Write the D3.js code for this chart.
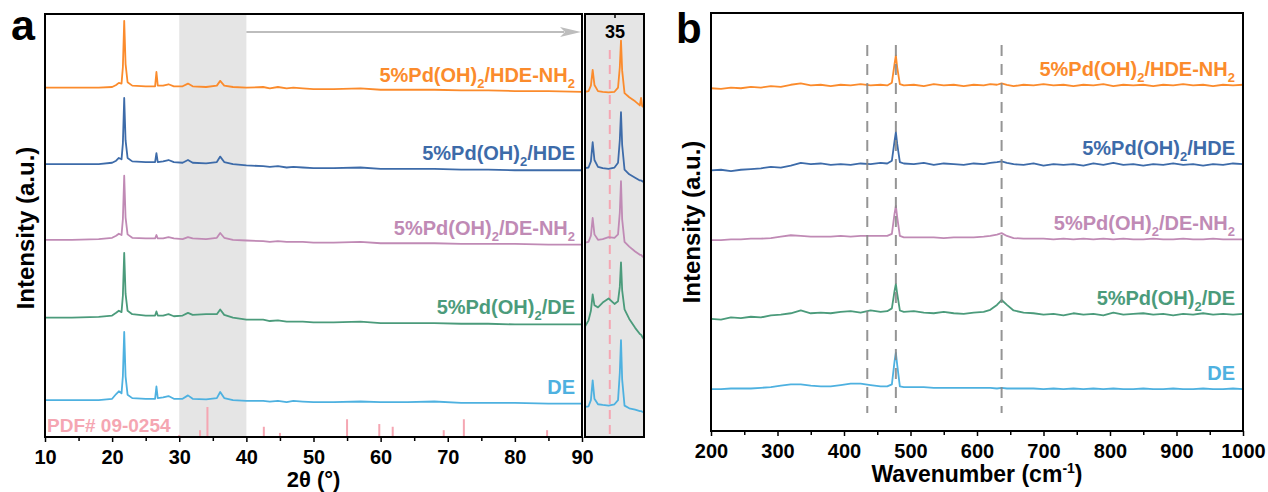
<!DOCTYPE html>
<html>
<meta charset="utf-8">
<head>
    <title>XRD and Raman</title>
    <script src="https://cdn.jsdelivr.net/npm/d3@7"></script>
    <style>
        body { margin: 0; background: #fff; }
        svg text { font-family: "Liberation Sans", Arial, sans-serif; font-weight: bold; }
    </style>
</head>
<body>
    <div id="chart"></div>
<script>
    // ---- data (bottom trace first) ----
    var sampleNames = [
        ["DE"],
        ["5%Pd(OH)", "2", "/DE"],
        ["5%Pd(OH)", "2", "/DE-NH", "2"],
        ["5%Pd(OH)", "2", "/HDE"],
        ["5%Pd(OH)", "2", "/HDE-NH", "2"]
    ];
    var sampleColors = ["#4eb1e0", "#4b9b7b", "#c08ab5", "#3d6ba9", "#fb8b2c"];

    // XRD, 2theta in degrees, intensity in a.u. (main peak ~100)
    var xrdTheta = [10, 14, 18, 20, 20.6, 21.0, 21.4, 21.6, 21.8, 22.0, 22.3, 23, 25, 26.4, 26.6, 26.8, 27.6, 28.4, 29.2, 30.5, 31.3, 32, 34, 35.6, 36.1, 36.7, 38, 40, 42.5, 43.5, 44.7, 46, 47, 48.4, 50, 53, 57, 60, 64, 68, 72, 76, 80, 85, 90];
    var xrdDE = [0, 0, 0, 2, 9, 13, 10, 35, 100, 35, 8, 3, 2, 2, 20, 3, 4, 6, 2, 2, 7, 2, 1, 3, 12, 3, 0, -1, -1, -2, -1, -3, -1, -2, -3, -3, -2, -3, -3, -2, -4, -4, -4, -5, -5];
    var xrdPdDE = [0, 0, 1, 3, 7, 10, 8, 32, 95, 35, 10, 5, 3, 3, 9, 3, 3, 5, 2, 3, 7, 4, 5, 5, 12, 4, 0, -3, -3, -5, -4, -6, -6, -6, -7, -7, -6, -8, -8, -8, -9, -9, -10, -10, -10];
    var xrdPdDENH2 = [0, 0, 1, 3, 6, 9, 7, 30, 94, 33, 8, 3, 2, 2, 7, 2, 2, 4, 2, 1, 4, 2, 1, 3, 10, 3, 0, -1, -2, -3, -2, -3, -3, -3, -4, -4, -3, -5, -5, -5, -6, -6, -6, -7, -7];
    var xrdPdHDE = [0, 0, 0, 2, 5, 9, 7, 30, 97, 35, 9, 4, 3, 3, 16, 3, 4, 6, 3, 2, 6, 2, 1, 3, 11, 3, 0, -2, -3, -4, -3, -5, -4, -5, -6, -6, -5, -7, -7, -7, -8, -8, -9, -9, -9];
    var xrdPdHDENH2 = [0, 0, 0, 1, 4, 7, 6, 30, 98, 35, 8, 3, 2, 2, 23, 3, 3, 5, 2, 2, 6, 2, 1, 3, 10, 3, 1, 0, 1, -1, 1, -1, 0, -1, -2, -2, -1, -3, -3, -3, -4, -4, -5, -5, -6];
    var xrdOffsets = [54, 175, 289, 400, 512];

    // zoomed 30-40 deg scans shown in the side box
    var insetTheta = [30, 30.6, 31.0, 31.3, 31.6, 32.2, 33, 34, 35, 35.6, 35.9, 36.1, 36.3, 36.7, 37.5, 38.5, 39.3, 39.5, 39.7, 40];
    var insetDE = [-10, -9, 0, 29, 2, -6, -7, -8, -6, 0, 40, 88, 30, -8, -12, -14, -16, -16, -17, -18];
    var insetPdDE = [-13, -4, 10, 34, 18, 15, 22, 28, 20, 24, 45, 81, 40, 12, -2, -15, -24, -25, -28, -32];
    var insetPdDENH2 = [-4, -3, 6, 32, 8, 0, 1, 4, 3, 8, 40, 86, 30, -3, -10, -17, -22, -22, -24, -26];
    var insetPdHDE = [-6, -5, 4, 32, 6, -4, -6, -7, -5, 2, 35, 76, 28, -8, -15, -20, -24, -24, -25, -27];
    var insetPdHDENH2 = [-6, -5, 3, 26, 4, -5, -6, -7, -6, 0, 30, 69, 25, -8, -14, -20, -26, -15, -27, -29];

    // reference pattern PDF# 09-0254
    var pdfTheta = [30.0, 33.1, 34.2, 42.6, 45.0, 55.0, 59.8, 61.8, 69.4, 72.4, 84.8];
    var pdfIntensity = [3, 10, 44, 15, 6, 26, 19, 15, 10, 26, 10];
    var pdfMarker = 34.2;

    // Raman, wavenumber in cm-1
    var ramanX = [200, 215, 230, 245, 260, 275, 290, 305, 320, 335, 350, 365, 380, 395, 410, 425, 440, 455, 465, 472, 476, 478, 480, 484, 490, 505, 520, 535, 550, 565, 580, 595, 610, 620, 630, 637, 645, 655, 670, 685, 700, 715, 730, 745, 760, 775, 790, 805, 820, 835, 850, 865, 880, 895, 910, 925, 940, 955, 970, 985, 1000];
    var ramanDE = [0, 0, 1, 1, 1, 2, 3, 5, 7, 7, 5, 4, 4, 6, 8, 8, 6, 4, 4, 7, 40, 52, 35, 4, 3, 3, 3, 2, 2, 2, 2, 2, 2, 2, 1, 2, 1, 1, 1, 1, 0, 1, 0, 1, 0, 1, 0, 1, 0, 0, 1, 0, 0, 1, 0, 0, 1, 0, 0, 1, 0];
    var ramanPdDE = [0, -1, 2, 1, 3, 2, 5, 6, 8, 12, 8, 9, 8, 10, 11, 9, 12, 10, 11, 15, 40, 50, 36, 12, 10, 11, 9, 8, 10, 8, 7, 9, 10, 13, 20, 27, 20, 12, 9, 8, 6, 7, 5, 8, 6, 7, 5, 9, 6, 7, 8, 6, 7, 5, 7, 6, 8, 6, 7, 6, 7];
    var ramanPdDENH2 = [0, 0, 1, 1, 2, 2, 3, 5, 7, 6, 5, 5, 5, 6, 5, 6, 6, 6, 6, 9, 38, 49, 33, 6, 4, 4, 4, 4, 3, 4, 4, 4, 5, 6, 8, 10, 6, 3, 2, 2, 2, 1, 2, 1, 2, 1, 2, 1, 2, 1, 1, 2, 1, 1, 2, 1, 1, 2, 1, 1, 1];
    var ramanPdHDE = [0, 1, -1, 1, 2, 3, 5, 4, 7, 11, 9, 10, 8, 9, 8, 10, 9, 11, 10, 14, 42, 55, 38, 12, 10, 9, 11, 8, 10, 9, 8, 10, 9, 11, 12, 13, 11, 9, 8, 10, 7, 9, 8, 9, 7, 10, 8, 11, 8, 9, 7, 9, 8, 10, 8, 9, 7, 9, 8, 10, 9];
    var ramanPdHDENH2 = [0, -1, 1, 0, 2, 1, 3, 2, 5, 7, 4, 5, 3, 5, 4, 6, 4, 5, 4, 8, 35, 47, 30, 6, 4, 5, 3, 6, 4, 5, 3, 5, 4, 6, 5, 7, 5, 3, 5, 4, 6, 4, 5, 3, 5, 4, 6, 3, 5, 4, 5, 3, 5, 4, 6, 4, 5, 3, 5, 4, 5];
    var ramanOffsets = [60, 161, 274, 374, 492];
    var ramanMarkers = [435, 478, 637];

    var xrdSeries = [xrdDE, xrdPdDE, xrdPdDENH2, xrdPdHDE, xrdPdHDENH2];
    var insetSeries = [insetDE, insetPdDE, insetPdDENH2, insetPdHDE, insetPdHDENH2];
    var ramanSeries = [ramanDE, ramanPdDE, ramanPdDENH2, ramanPdHDE, ramanPdHDENH2];

    // ---- svg ----
    var svg = d3.select("#chart")
        .append("svg")
        .attr("width", 1268)
        .attr("height", 492);

    function addLabel(g, parts, x, y, color, size, shift) {
        var t = g.append("text")
            .attr("x", x).attr("y", y)
            .attr("text-anchor", "end")
            .attr("fill", color)
            .style("font-size", size + "px");
        parts.forEach(function(p, i) {
            var ts = t.append("tspan").text(p);
            if (i % 2 == 1) ts.style("font-size", (size * 0.65) + "px").attr("dy", shift);
            else if (i > 0) ts.attr("dy", -shift);
        });
        return t;
    }

    function styleAxis(g, size) {
        g.select(".domain").remove();
        g.selectAll(".tick line").attr("stroke", "#000").attr("stroke-width", 1.5);
        g.selectAll(".tick text").attr("fill", "#000").style("font-size", size + "px");
    }

    // ================= panel a =================
    var a = { left: 45, top: 14, right: 582, bottom: 437 };
    var xA = d3.scaleLinear().domain([10, 90]).range([a.left, a.right]);
    var yA = d3.scaleLinear().domain([0, 620]).range([a.bottom, a.top]);
    var xIn = d3.scaleLinear().domain([30, 40]).range([585, 644]);

    var gA = svg.append("g");
    gA.append("clipPath").attr("id", "clipA").append("rect")
        .attr("x", a.left).attr("y", a.top).attr("width", a.right - a.left).attr("height", a.bottom - a.top);
    gA.append("clipPath").attr("id", "clipIn").append("rect")
        .attr("x", xIn(30)).attr("y", a.top).attr("width", xIn(40) - xIn(30)).attr("height", a.bottom - a.top);

    // highlighted 30-40 band
    gA.append("rect")
        .attr("x", xA(30)).attr("y", a.top)
        .attr("width", xA(40) - xA(30)).attr("height", a.bottom - a.top)
        .attr("fill", "#e5e5e5");

    // arrow from band to zoom box
    var arrowY = 32;
    gA.append("line")
        .attr("x1", xA(40)).attr("x2", xA(90) - 18)
        .attr("y1", arrowY).attr("y2", arrowY)
        .attr("stroke", "#bdbdbd").attr("stroke-width", 2);
    gA.append("path")
        .attr("d", "M" + (xA(90) - 22) + "," + (arrowY - 5) + "L" + (xA(90) - 1) + "," + arrowY + "L" + (xA(90) - 22) + "," + (arrowY + 5) + "L" + (xA(90) - 17) + "," + arrowY + "Z")
        .attr("fill", "#bdbdbd");

    // reference sticks
    gA.selectAll(".pdf")
        .data(pdfTheta)
        .enter()
        .append("line")
            .attr("x1", function(d) { return xA(d); })
            .attr("x2", function(d) { return xA(d); })
            .attr("y1", yA(0))
            .attr("y2", function(d, i) { return yA(pdfIntensity[i]); })
            .attr("stroke", "#f5a6b2")
            .attr("stroke-width", 2);
    gA.append("text")
        .attr("x", a.left + 2).attr("y", 432)
        .attr("fill", "#f5a6b2")
        .style("font-size", "19px")
        .text("PDF# 09-0254");

    var lineA = d3.line()
        .x(function(d) { return xA(d[0]); })
        .y(function(d) { return yA(d[1]); });
    var lineIn = d3.line()
        .x(function(d) { return xIn(d[0]); })
        .y(function(d) { return yA(d[1]); });

    xrdSeries.forEach(function(s, i) {
        var pts = xrdTheta.map(function(t, j) { return [t, s[j] + xrdOffsets[i]]; });
        gA.append("path")
            .attr("d", lineA(pts))
            .attr("clip-path", "url(#clipA)")
            .attr("fill", "none")
            .attr("stroke", sampleColors[i])
            .attr("stroke-width", 1.8)
            .attr("stroke-linejoin", "round");
        addLabel(gA, sampleNames[i], 575, yA(xrdOffsets[i] + s[s.length - 1]) - 10, sampleColors[i], 20, 6);
    });

    // zoom box
    gA.append("rect")
        .attr("x", xIn(30)).attr("y", a.top)
        .attr("width", xIn(40) - xIn(30)).attr("height", a.bottom - a.top)
        .attr("fill", "#e5e5e5");
    gA.append("line")
        .attr("x1", xIn(pdfMarker)).attr("x2", xIn(pdfMarker))
        .attr("y1", 50).attr("y2", a.bottom)
        .attr("stroke", "#f5a6b2").attr("stroke-width", 2)
        .attr("stroke-dasharray", "9,6");
    insetSeries.forEach(function(s, i) {
        var pts = insetTheta.map(function(t, j) { return [t, s[j] + xrdOffsets[i]]; });
        gA.append("path")
            .attr("d", lineIn(pts))
            .attr("clip-path", "url(#clipIn)")
            .attr("fill", "none")
            .attr("stroke", sampleColors[i])
            .attr("stroke-width", 1.8)
            .attr("stroke-linejoin", "round");
    });
    gA.append("rect")
        .attr("x", xIn(30)).attr("y", a.top)
        .attr("width", xIn(40) - xIn(30)).attr("height", a.bottom - a.top)
        .attr("fill", "none").attr("stroke", "#000").attr("stroke-width", 2);
    var inAxis = gA.append("g")
        .attr("transform", "translate(0," + a.top + ")")
        .call(d3.axisBottom(xIn).tickValues([35]).tickSize(4).tickPadding(7));
    styleAxis(inAxis, 18);

    // frame + axes
    gA.append("rect")
        .attr("x", a.left).attr("y", a.top)
        .attr("width", a.right - a.left).attr("height", a.bottom - a.top)
        .attr("fill", "none").attr("stroke", "#000").attr("stroke-width", 2);
    var axA = gA.append("g")
        .attr("transform", "translate(0," + a.bottom + ")")
        .call(d3.axisBottom(xA).tickValues(d3.range(10, 91, 10)).tickSize(5).tickPadding(8).tickFormat(d3.format("d")));
    styleAxis(axA, 20);
    var axAm = gA.append("g")
        .attr("transform", "translate(0," + a.bottom + ")")
        .call(d3.axisBottom(xA).tickValues(d3.range(15, 90, 10)).tickSize(4).tickFormat(""));
    styleAxis(axAm, 20);

    gA.append("text")
        .attr("x", (a.left + a.right) / 2).attr("y", 487)
        .attr("text-anchor", "middle")
        .style("font-size", "22px")
        .text("2θ (°)");
    gA.append("text")
        .attr("transform", "translate(34," + 228 + ")rotate(-90)")
        .attr("text-anchor", "middle")
        .style("font-size", "24px")
        .text("Intensity (a.u.)");
    gA.append("text")
        .attr("x", 11).attr("y", 40)
        .style("font-size", "43px")
        .text("a");

    // ================= panel b =================
    var b = { left: 711, top: 13, right: 1243, bottom: 431 };
    var xB = d3.scaleLinear().domain([200, 1000]).range([b.left, b.right]);
    var yB = d3.scaleLinear().domain([0, 600]).range([b.bottom, b.top]);

    var gB = svg.append("g");
    var lineB = d3.line()
        .x(function(d) { return xB(d[0]); })
        .y(function(d) { return yB(d[1]); });

    ramanSeries.forEach(function(s, i) {
        var pts = ramanX.map(function(w, j) { return [w, s[j] + ramanOffsets[i]]; });
        gB.append("path")
            .attr("d", lineB(pts))
            .attr("fill", "none")
            .attr("stroke", sampleColors[i])
            .attr("stroke-width", 1.8)
            .attr("stroke-linejoin", "round");
        addLabel(gB, sampleNames[i], 1235, yB(ramanOffsets[i] + s[s.length - 1]) - 9, sampleColors[i], 20, 6);
    });

    gB.selectAll(".marker")
        .data(ramanMarkers)
        .enter()
        .append("line")
            .attr("x1", function(d) { return xB(d); })
            .attr("x2", function(d) { return xB(d); })
            .attr("y1", 45).attr("y2", 413)
            .attr("stroke", "#8a8a8a")
            .attr("stroke-opacity", 0.9)
            .attr("stroke-width", 2)
            .attr("stroke-dasharray", "11,8");

    gB.append("rect")
        .attr("x", b.left).attr("y", b.top)
        .attr("width", b.right - b.left).attr("height", b.bottom - b.top)
        .attr("fill", "none").attr("stroke", "#000").attr("stroke-width", 2);
    var axB = gB.append("g")
        .attr("transform", "translate(0," + b.bottom + ")")
        .call(d3.axisBottom(xB).tickValues(d3.range(200, 1001, 100)).tickSize(5).tickPadding(8).tickFormat(d3.format("d")));
    styleAxis(axB, 20);
    var axBm = gB.append("g")
        .attr("transform", "translate(0," + b.bottom + ")")
        .call(d3.axisBottom(xB).tickValues(d3.range(250, 1000, 100)).tickSize(4).tickFormat(""));
    styleAxis(axBm, 20);

    var wt = gB.append("text")
        .attr("x", (b.left + b.right) / 2).attr("y", 482)
        .attr("text-anchor", "middle")
        .style("font-size", "23px");
    wt.append("tspan").text("Wavenumber (cm");
    wt.append("tspan").text("-1").style("font-size", "14px").attr("dy", -9);
    wt.append("tspan").text(")").attr("dy", 9);
    gB.append("text")
        .attr("transform", "translate(700," + 222 + ")rotate(-90)")
        .attr("text-anchor", "middle")
        .style("font-size", "24px")
        .text("Intensity (a.u.)");
    gB.append("text")
        .attr("x", 676).attr("y", 43)
        .style("font-size", "42px")
        .text("b");
</script>
</body>
</html>
